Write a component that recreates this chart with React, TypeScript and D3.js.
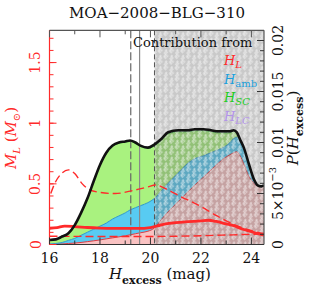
import React from 'react'
import * as d3 from 'd3'

// H_excess grid (mag)
const hGrid = [16, 16.25, 16.5, 16.75, 17, 17.25, 17.5, 17.75, 18, 18.25, 18.5, 18.75, 19, 19.2, 19.4, 19.6, 19.9, 20.15, 20.45, 20.7, 21.1, 21.5, 21.75, 22.1, 22.4, 22.7, 22.95, 23.15, 23.3, 23.42, 23.55, 23.7, 23.9, 24.1, 24.25, 24.4, 24.5]
// contributions to P(H_excess)
const pL = [0, 0.00002, 0.00005, 0.0001, 0.00014, 0.0002, 0.00028, 0.00036, 0.00045, 0.00055, 0.00065, 0.00075, 0.00085, 0.00095, 0.00105, 0.00115, 0.0013, 0.0016, 0.0025, 0.0032, 0.0042, 0.0052, 0.0058, 0.0066, 0.0073, 0.008, 0.0085, 0.0088, 0.009, 0.0091, 0.0087, 0.0079, 0.0067, 0.006, 0.0057, 0.0057, 0.0058]
const pAmb = [0.00005, 0.00008, 0.00015, 0.0003, 0.00046, 0.0007, 0.00092, 0.00114, 0.00135, 0.00155, 0.00185, 0.00205, 0.00225, 0.00245, 0.00255, 0.00265, 0.0028, 0.0029, 0.0028, 0.0028, 0.0028, 0.0028, 0.0026, 0.0021, 0.0017, 0.0013, 0.0011, 0.0012, 0.0014, 0.0014, 0.0016, 0.0016, 0.0012, 0.0004, 0.0001, 0, 0]
const pSC = [0.00039, 0.0004, 0.00058, 0.0007, 0.0013, 0.0022, 0.0033, 0.0047, 0.00597, 0.00682, 0.00712, 0.00712, 0.00692, 0.00672, 0.00632, 0.00582, 0.00532, 0.00515, 0.00495, 0.00485, 0.00405, 0.00305, 0.00275, 0.00245, 0.00205, 0.00165, 0.00135, 0.00095, 0.0007, 0.00045, 0, 0, 0, 0, 0, 0, 0]
const pLC = [0, 0, 0, 0, 0, 0, 0, 0, 0.00003, 0.00008, 0.00008, 0.00008, 0.00008, 0.00008, 0.00008, 0.00008, 0.00008, 0.00015, 0.00015, 0.00015, 0.00015, 0.00015, 0.00015, 0.00015, 0.00015, 0.00015, 0.00015, 0.00015, 0.0001, 0.00005, 0, 0, 0, 0, 0, 0, 0]

// lens mass (M_sun) vs H_excess
const hMed = [16, 16.3, 16.6, 17, 17.5, 18, 18.5, 19, 19.5, 20, 20.3, 20.6, 21, 21.5, 22, 22.3, 22.6, 23, 23.3, 23.6, 24, 24.3, 24.5]
const mMed = [0.134, 0.14, 0.152, 0.148, 0.14, 0.135, 0.133, 0.133, 0.133, 0.14, 0.155, 0.17, 0.18, 0.188, 0.195, 0.2, 0.19, 0.17, 0.155, 0.13, 0.105, 0.088, 0.078]
const hUp = [16.05, 16.2, 16.45, 16.75, 17.0, 17.3, 17.6, 18.0, 18.6, 19.2, 19.9, 20.2, 20.7, 21.2, 21.9, 22.6, 23.2, 23.9, 24.5]
const mUp = [0.42, 0.5, 0.58, 0.615, 0.585, 0.5, 0.45, 0.43, 0.42, 0.44, 0.475, 0.49, 0.45, 0.395, 0.325, 0.24, 0.175, 0.12, 0.09]
const hLo = [16, 17, 18, 19, 20, 21, 22, 23, 24, 24.5]
const mLo = [0.068, 0.067, 0.066, 0.066, 0.066, 0.068, 0.072, 0.078, 0.084, 0.086]

// vertical markers (mag)
const hDashA = 19.22
const hSolid = 19.57
const hDashB = 20.16

const xTicks = [16, 17, 18, 19, 20, 21, 22, 23, 24]
const mMajor = [0, 0.5, 1, 1.5]
const pMajor = [0, 0.005, 0.01, 0.015, 0.02]

const keys = ['L', 'amb', 'SC', 'LC']
const fills: Record<string, string> = { L: '#f9c2c2', amb: '#58cbf2', SC: '#a9f27f', LC: '#c9a8f0' }
const edges: Record<string, string> = { L: '#e8282e', amb: '#1f8fd0', SC: '#3cc43c', LC: '#a080d8' }

const App = () => {
	const left = 49.5
	const right = 264
	const top = 30.3
	const bottom = 244.5

	const x = d3.scaleLinear().domain([16, 24.5]).range([left, right])
	const yP = d3.scaleLinear().domain([0, 0.021]).range([bottom, top])
	const yM = d3.scaleLinear().domain([0, 1.766]).range([bottom, top])

	const rows = hGrid.map((h, i) => ({ h, L: pL[i], amb: pAmb[i], SC: pSC[i], LC: pLC[i] }))
	const series = d3.stack<any>().keys(keys)(rows)

	const area = d3
		.area<any>()
		.x(d => x(d.data.h))
		.y0(d => yP(d[0]))
		.y1(d => yP(d[1]))
		.curve(d3.curveMonotoneX)
	const topLine = d3
		.line<any>()
		.x(d => x(d.data.h))
		.y(d => yP(d[1]))
		.curve(d3.curveMonotoneX)

	const mLine = d3
		.line<[number, number]>()
		.x(d => x(d[0]))
		.y(d => yM(d[1]))
		.curve(d3.curveMonotoneX)

	const med = hMed.map((h, i) => [h, mMed[i]] as [number, number])
	const up = hUp.map((h, i) => [h, mUp[i]] as [number, number])
	const lo = hLo.map((h, i) => [h, mLo[i]] as [number, number])

	const mMinor = d3.range(0, 1.75, 0.1)
	const pMinor = d3.range(0, 0.0205, 0.001)

	const serif = "'DejaVu Serif', serif"
	const red = '#ff2a2a'
	const dark = '#333'

	return (
		<svg width={311} height={292} style={{ position: 'absolute', left: 0, top: 0 }} fontFamily={serif}>
			<defs>
				<clipPath id="plot">
					<rect x={left} y={top} width={right - left} height={bottom - top} />
				</clipPath>
				<pattern id="hatch" width={8} height={8} patternUnits="userSpaceOnUse" patternTransform="rotate(45)">
					<rect width={8} height={8} fill="#6a6a6a" opacity={0.36} />
					<path d="M1,1h3v3h3M1,5v2h3M6,0.5v2" stroke="#fff" strokeWidth={1.1} fill="none" opacity={0.75} />
				</pattern>
			</defs>

			<text x={157} y={18} textAnchor="middle" fontSize={15} fill="#111">
				MOA−2008−BLG−310
			</text>

			<g clipPath="url(#plot)">
				{series.map(s => (
					<path key={s.key} d={area(s) || ''} fill={fills[s.key]} />
				))}
				{series.map(s => (
					<path key={'e' + s.key} d={topLine(s) || ''} fill="none" stroke={edges[s.key]} strokeWidth={0.9} />
				))}

				<rect x={x(hDashB)} y={top} width={right - x(hDashB)} height={bottom - top} fill="url(#hatch)" />

				<line x1={x(hDashA)} x2={x(hDashA)} y1={top} y2={bottom} stroke="#666" strokeWidth={1.2} strokeDasharray="8,3" />
				<line x1={x(hSolid)} x2={x(hSolid)} y1={top} y2={bottom} stroke="#888" strokeWidth={1.2} />
				<line x1={x(hDashB)} x2={x(hDashB)} y1={top} y2={bottom} stroke="#555" strokeWidth={1} strokeDasharray="5,3" />

				<path d={mLine(up) || ''} fill="none" stroke={red} strokeWidth={1.4} strokeDasharray="8,4" />
				<path d={mLine(lo) || ''} fill="none" stroke={red} strokeWidth={1.4} strokeDasharray="8,4" />
				<path d={mLine(med) || ''} fill="none" stroke={red} strokeWidth={2.8} />

				<path d={topLine(series[series.length - 1]) || ''} fill="none" stroke="#111" strokeWidth={2.6} />
			</g>

			{/* frame */}
			<line x1={left} x2={right} y1={top} y2={top} stroke="#555" strokeWidth={1.2} />
			<line x1={left} x2={right} y1={bottom} y2={bottom} stroke={dark} strokeWidth={1.2} />
			<line x1={right} x2={right} y1={top} y2={bottom} stroke="#555" strokeWidth={1.2} />
			<line x1={left} x2={left} y1={top} y2={bottom} stroke={red} strokeWidth={1.2} />

			{xTicks.map(t => {
				const len = t % 2 === 0 ? 7 : 4
				return (
					<g key={'xt' + t} stroke={dark} strokeWidth={1}>
						<line x1={x(t)} x2={x(t)} y1={bottom} y2={bottom - len} />
						<line x1={x(t)} x2={x(t)} y1={top} y2={top + len} stroke="#555" />
					</g>
				)
			})}
			{mMinor.map(t => (
				<line key={'mm' + t} x1={left} x2={left + 4} y1={yM(t)} y2={yM(t)} stroke={red} strokeWidth={1} />
			))}
			{mMajor.map(t => (
				<line key={'mM' + t} x1={left} x2={left + 7} y1={yM(t)} y2={yM(t)} stroke={red} strokeWidth={1} />
			))}
			{pMinor.map(t => (
				<line key={'pm' + t} x1={right} x2={right - 4} y1={yP(t)} y2={yP(t)} stroke={dark} strokeWidth={1} />
			))}
			{pMajor.map(t => (
				<line key={'pM' + t} x1={right} x2={right - 7} y1={yP(t)} y2={yP(t)} stroke={dark} strokeWidth={1} />
			))}

			{/* x tick labels */}
			{xTicks
				.filter(t => t % 2 === 0)
				.map(t => (
					<text key={'xl' + t} x={x(t)} y={262.5} textAnchor="middle" fontSize={14} fill="#111">
						{t}
					</text>
				))}

			{/* left tick labels */}
			{mMajor.map(t => (
				<text
					key={'ml' + t}
					x={35.5}
					y={yM(t)}
					transform={`rotate(-90, 35.5, ${yM(t)})`}
					textAnchor="middle"
					dominantBaseline="central"
					fontSize={14}
					fill={red}
				>
					{t}
				</text>
			))}

			{/* right tick labels */}
			{pMajor.map(t => (
				<text
					key={'pl' + t}
					x={278}
					y={yP(t)}
					transform={`rotate(-90, 278, ${yP(t)})`}
					textAnchor="middle"
					dominantBaseline="central"
					fontSize={14}
					fill="#111"
				>
					{t === 0.005 ? (
						<>
							5×10
							<tspan fontSize={10} dy={-6}>
								−3
							</tspan>
						</>
					) : (
						String(t)
					)}
				</text>
			))}

			{/* axis titles */}
			<text x={160} y={279} textAnchor="middle" fontSize={15} fill="#111">
				<tspan fontStyle="italic">H</tspan>
				<tspan fontSize={11} fontWeight="bold" dy={5}>
					excess
				</tspan>
				<tspan dy={-5}> (mag)</tspan>
			</text>

			<text x={16} y={138} transform="rotate(-90, 16, 138)" textAnchor="middle" fontSize={15} fill={red}>
				<tspan fontStyle="italic">M</tspan>
				<tspan fontSize={10} fontStyle="italic" dy={4}>
					L
				</tspan>
				<tspan dy={-4}> (</tspan>
				<tspan fontStyle="italic">M</tspan>
				<tspan fontSize={10} dy={4}>
					⊙
				</tspan>
				<tspan dy={-4}>)</tspan>
			</text>

			<text x={298} y={128} transform="rotate(-90, 298, 128)" textAnchor="middle" fontSize={15} fill="#111">
				<tspan fontStyle="italic">P</tspan>
				<tspan>(</tspan>
				<tspan fontStyle="italic">H</tspan>
				<tspan fontSize={11} fontWeight="bold" dy={5}>
					excess
				</tspan>
				<tspan dy={-5}>)</tspan>
			</text>

			{/* legend */}
			<text x={133} y={47} fontSize={13} fill="#111">
				Contribution from
			</text>
			{[
				{ sub: 'L', col: '#ff2a2a', italic: true },
				{ sub: 'amb', col: '#1ba0dc', italic: false },
				{ sub: 'SC', col: '#22cc22', italic: true },
				{ sub: 'LC', col: '#b394e8', italic: true }
			].map((d, i) => (
				<text key={d.sub} x={224} y={65 + i * 18.5} fontSize={13} fill={d.col}>
					<tspan fontStyle="italic">H</tspan>
					<tspan fontSize={10} dy={3} fontStyle={d.italic ? 'italic' : 'normal'}>
						{d.sub}
					</tspan>
				</text>
			))}
		</svg>
	)
}

export default App
